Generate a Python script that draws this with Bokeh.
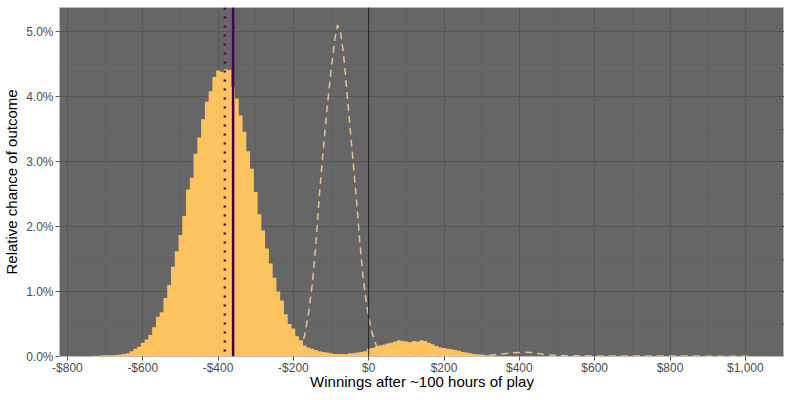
from bokeh.plotting import figure
from bokeh.models import Range1d, FixedTicker, PrintfTickFormatter, Span, ColumnDataSource
from bokeh.embed import file_html
from bokeh.resources import INLINE

# ---------------- data ----------------
bin_start = -740
bin_width = 10
# histogram heights, % per $10 bin, bins centred at -740, -730, ..., 400
hist_pct = [
    0.005, 0.01, 0.01, 0.015, 0.02, 0.02, 0.02, 0.025, 0.03, 0.04,   # -740..-650
    0.05, 0.08, 0.12, 0.15, 0.21, 0.26, 0.33, 0.45, 0.61, 0.68,      # -640..-550
    0.90, 1.10, 1.38, 1.62, 1.87, 2.16, 2.57, 2.75, 3.12, 3.37,      # -540..-450
    3.65, 3.92, 4.08, 4.30, 4.40, 4.38, 4.42, 4.41, 4.15, 3.97,      # -440..-350
    3.71, 3.46, 3.16, 2.89, 2.53, 2.19, 1.94, 1.66, 1.43, 1.21,      # -340..-250
    1.00, 0.86, 0.65, 0.50, 0.43, 0.31, 0.25, 0.17, 0.14, 0.12,      # -240..-150
    0.10, 0.08, 0.07, 0.06, 0.05, 0.04, 0.04, 0.04, 0.04, 0.05,      # -140..-50
    0.05, 0.06, 0.07, 0.08, 0.12, 0.13, 0.15, 0.17, 0.18, 0.20,      # -40..50
    0.21, 0.23, 0.25, 0.24, 0.23, 0.22, 0.24, 0.23, 0.25, 0.24,      # 60..150
    0.21, 0.19, 0.16, 0.14, 0.13, 0.12, 0.11, 0.10, 0.09, 0.07,      # 160..250
    0.06, 0.05, 0.04, 0.03, 0.025, 0.02, 0.015, 0.012, 0.01, 0.008,  # 260..350
    0.006, 0.005, 0.004, 0.003, 0.003,                               # 360..400
]
bin_centers = [bin_start + i * bin_width for i in range(len(hist_pct))]

# reference (dashed) distribution
ref_x = [-210, -200, -190, -180, -170, -160, -150, -140, -130, -120, -110, -100,
         -90, -83, -75, -67, -59, -50, -41, -32, -24, -15, -6, 7, 20, 30, 40, 55,
         80, 120, 200, 280, 320, 350, 380, 410, 430, 450, 470, 500, 550, 700, 850, 1010]
ref_pct = [0.0, 0.02, 0.05, 0.13, 0.33, 0.66, 1.10, 1.75, 2.55, 3.22, 3.85, 4.40,
           4.88, 5.10, 5.00, 4.66, 4.15, 3.55, 2.98, 2.38, 1.79, 1.22, 0.81, 0.40, 0.17, 0.10, 0.06, 0.03,
           0.015, 0.01, 0.01, 0.012, 0.02, 0.035, 0.055, 0.066, 0.062, 0.045, 0.028, 0.015, 0.01, 0.008, 0.006, 0.005]

mean_winnings = -360
median_winnings = -382
break_even = 0

x_ticks = [-800, -600, -400, -200, 0, 200, 400, 600, 800, 1000]
x_labels = ["-$800", "-$600", "-$400", "-$200", "$0", "$200", "$400", "$600", "$800", "$1,000"]
x_minor = [-700, -500, -300, -100, 100, 300, 500, 700, 900, 1100]
y_ticks = [0, 1, 2, 3, 4, 5]
y_minor = [0.5, 1.5, 2.5, 3.5, 4.5]
x_title = "Winnings after ~100 hours of play"
y_title = "Relative chance of outcome"

# ---------------- figure ----------------
FONT = "Liberation Sans"
p = figure(width=784, height=392, output_backend="svg", toolbar_location=None,
           x_range=Range1d(-821, 1104), y_range=Range1d(0, 5.37),
           min_border_left=52, min_border_right=0, min_border_top=7, min_border_bottom=0)
p.background_fill_color = "#666666"
p.border_fill_color = "white"
p.outline_line_color = "#bdbdbd"
p.outline_line_width = 1

xt = FixedTicker(ticks=x_ticks, minor_ticks=x_minor)
yt = FixedTicker(ticks=y_ticks, minor_ticks=y_minor)
p.xaxis.ticker = xt
p.yaxis.ticker = yt
p.xgrid.ticker = xt
p.ygrid.ticker = yt
p.xaxis.major_label_overrides = {t: l for t, l in zip(x_ticks, x_labels)}
p.yaxis.formatter = PrintfTickFormatter(format="%.1f%%")

for g in (p.xgrid, p.ygrid):
    g.grid_line_color = "#555555"
    g.grid_line_width = 1
    g.minor_grid_line_color = "#5e5e5e"
    g.minor_grid_line_width = 0.7

for ax in (p.xaxis, p.yaxis):
    ax.axis_line_color = None
    ax.major_tick_in = 0
    ax.major_tick_out = 4
    ax.major_tick_line_color = "#555555"
    ax.minor_tick_in = 0
    ax.minor_tick_out = 0
    ax.major_label_text_font = FONT
    ax.major_label_text_font_size = "12px"
    ax.major_label_text_color = "#4d4d4d"
    ax.axis_label_text_font = FONT
    ax.axis_label_text_font_size = "15px"
    ax.axis_label_text_font_style = "normal"
    ax.axis_label_text_color = "#000000"

p.xaxis.major_label_standoff = 0
p.xaxis.axis_label_standoff = -5
p.yaxis.major_label_standoff = 2
p.yaxis.axis_label_standoff = 3

p.xaxis.axis_label = x_title
p.yaxis.axis_label = y_title

hist_src = ColumnDataSource(dict(x=bin_centers, y=hist_pct))
p.varea_step(x="x", y1=0, y2="y", step_mode="center", source=hist_src,
             fill_color="#FDC35F", fill_alpha=1)

p.line(ref_x, ref_pct, line_color="#F2CC92", line_alpha=0.9, line_width=1.5, line_dash="7 5")

p.add_layout(Span(location=break_even, dimension="height", line_color="#222222", line_width=1))
p.add_layout(Span(location=mean_winnings, dimension="height", line_color="#440154", line_width=2.5))
p.add_layout(Span(location=median_winnings, dimension="height", line_color="#440154",
                  line_width=2.5, line_dash="2 7"))

open("out.html", "w").write(file_html(p, INLINE))
